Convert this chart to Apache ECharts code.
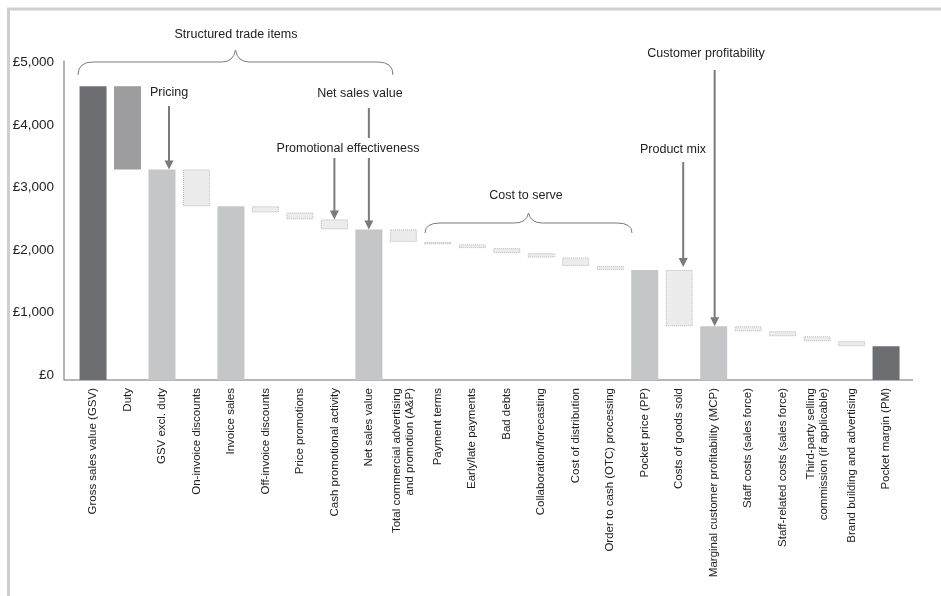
<!DOCTYPE html>
<html>
<head>
<meta charset="utf-8">
<script src="https://cdn.jsdelivr.net/npm/echarts@6/dist/echarts.min.js"></script>
<style>
  html, body { margin: 0; padding: 0; background: #fff; }
  #chart { width: 941px; height: 596px; }
</style>
</head>
<body>
<div id="chart"></div>
<script>
// Price waterfall: from gross sales value down to pocket margin (£ per unit)
const categories = [
  'Gross sales value (GSV)', 'Duty', 'GSV excl. duty', 'On-invoice discounts',
  'Invoice sales', 'Off-invoice discounts', 'Price promotions', 'Cash promotional activity',
  'Net sales value', 'Total commercial advertising\nand promotion (A&P)', 'Payment terms',
  'Early/late payments', 'Bad debts', 'Collaboration/forecasting', 'Cost of distribution',
  'Order to cash (OTC) processing', 'Pocket price (PP)', 'Costs of goods sold',
  'Marginal customer profitability (MCP)', 'Staff costs (sales force)',
  'Staff-related costs (sales force)', 'Third-party selling\ncommission (if applicable)',
  'Brand building and advertising', 'Pocket margin (PM)'
];

// 'gross' / 'subtotal' / 'margin' bars stand on the axis; 'duty' and 'cost' bars hang from the running total
const barKinds = [
  'gross', 'duty', 'subtotal', 'cost',
  'subtotal', 'cost', 'cost', 'cost',
  'subtotal', 'cost', 'cost',
  'cost', 'cost', 'cost', 'cost',
  'cost', 'subtotal', 'cost',
  'subtotal', 'cost',
  'cost', 'cost',
  'cost', 'margin'
];

const barValues = [
  4700, 1330, 3370, 590,
  2780, 100, 110, 160,
  2410, 200, 40,
  60, 80, 70, 135,
  65, 1760, 900,
  860, 80,
  80, 80,
  80, 540
];

const yTickValues = [0, 1000, 2000, 3000, 4000, 5000];
const yTickLabels = ['£0', '£1,000', '£2,000', '£3,000', '£4,000', '£5,000'];

// Running totals give each hanging bar its floor
const barBases = [];
let running = 0;
barKinds.forEach((kind, i) => {
  if (kind === 'duty' || kind === 'cost') {
    running -= barValues[i];
    barBases.push(running);
  } else {
    running = barValues[i];
    barBases.push(0);
  }
});

const kindStyle = {
  gross:    { color: '#6d6e71' },
  margin:   { color: '#6d6e71' },
  duty:     { color: '#9d9d9f' },
  subtotal: { color: '#c5c6c8' },
  cost:     { color: '#ececec', borderColor: '#b8b8b8', borderWidth: 1, borderType: 'dotted' }
};

const FONT = 'Liberation Sans, Arial, sans-serif';
const chart = echarts.init(document.getElementById('chart'), null, { renderer: 'canvas' });

chart.setOption({
  animation: false,
  backgroundColor: '#ffffff',
  grid: { left: 75.8, right: 37.7, top: 61.25, bottom: 216 },
  xAxis: {
    type: 'category',
    data: categories,
    axisLine: { show: false },
    axisTick: { show: false },
    axisLabel: {
      interval: 0, rotate: 90, margin: 8,
      color: '#222', fontFamily: FONT, fontSize: 11.5, lineHeight: 13
    }
  },
  yAxis: {
    type: 'value',
    min: 0, max: 5100, interval: 1000,
    offset: 11.8,
    splitLine: { show: false },
    axisTick: { show: false },
    axisLine: { show: true, lineStyle: { color: '#9a9a9a', width: 1.5 } },
    axisLabel: {
      margin: 10, color: '#222', fontFamily: FONT, fontSize: 13.5,
      verticalAlign: 'bottom', lineHeight: 10,
      formatter: v => {
        const k = yTickValues.indexOf(v);
        return k >= 0 ? yTickLabels[k] : '';
      }
    }
  },
  series: [
    {
      name: 'base', type: 'bar', stack: 'waterfall', silent: true,
      barWidth: 27,
      itemStyle: { color: 'transparent' },
      data: barBases
    },
    {
      name: 'value', type: 'bar', stack: 'waterfall',
      barWidth: 27,
      data: barValues.map((v, i) => ({ value: v, itemStyle: kindStyle[barKinds[i]] }))
    }
  ]
});

// ---- annotations: arrows, braces, captions ----
const px = (cat, val) => chart.convertToPixel({ xAxisIndex: 0, yAxisIndex: 0 }, [cat, val]);
const topOf = i => barBases[i] + barValues[i];
const ARROW = '#7a7a7a';
const g = [];

function caption(text, x, y) {
  g.push({
    type: 'text', x: x, y: y, z: 10,
    style: { text: text, fill: '#222', font: '12.5px ' + FONT, textAlign: 'center', textVerticalAlign: 'middle' }
  });
}
function segment(x, y1, y2) {
  g.push({ type: 'line', z: 10, shape: { x1: x, y1: y1, x2: x, y2: y2 }, style: { stroke: ARROW, lineWidth: 2 } });
}
function arrow(x, y1, yTip) {
  segment(x, y1, yTip - 7);
  g.push({
    type: 'polygon', z: 10,
    shape: { points: [[x - 4.5, yTip - 9], [x + 4.5, yTip - 9], [x, yTip]] },
    style: { fill: ARROW }
  });
}
function curve(x1, y1, cx, cy, x2, y2) {
  g.push({
    type: 'bezierCurve', z: 10,
    shape: { x1: x1, y1: y1, cpx1: cx, cpy1: cy, x2: x2, y2: y2 },
    style: { stroke: '#7a7a7a', lineWidth: 1, fill: null }
  });
}
function flat(x1, x2, y) {
  g.push({ type: 'line', z: 10, shape: { x1: x1, y1: y, x2: x2, y2: y }, style: { stroke: '#7a7a7a', lineWidth: 1 } });
}
function brace(x1, x2, yEnd, yFlat, yCusp) {
  const xm = (x1 + x2) / 2;
  curve(x1, yEnd, x1, yFlat, x1 + 15, yFlat);
  flat(x1 + 15, xm - 14, yFlat);
  curve(xm - 14, yFlat, xm - 2, yFlat, xm, yCusp);
  curve(xm, yCusp, xm + 2, yFlat, xm + 14, yFlat);
  flat(xm + 14, x2 - 15, yFlat);
  curve(x2 - 15, yFlat, x2, yFlat, x2, yEnd);
}

function drawAnnotations() {
  g.length = 0;
  const y0 = px(0, 0)[1];
  const yAxisX = px(0, 0)[0] - 17.24 - 11.8;

  // frame and baseline
  g.push({ type: 'line', shape: { x1: 7, y1: 9, x2: 941, y2: 9 }, style: { stroke: '#cfcfcf', lineWidth: 3 } });
  g.push({ type: 'line', shape: { x1: 8.5, y1: 8, x2: 8.5, y2: 596 }, style: { stroke: '#cfcfcf', lineWidth: 3 } });
  g.push({ type: 'line', shape: { x1: yAxisX, y1: y0, x2: 913, y2: y0 }, style: { stroke: '#a0a0a0', lineWidth: 1.5 } });

  // Structured trade items
  brace(78, 393, 75, 62, 50);
  caption('Structured trade items', 236, 35);

  // Pricing -> GSV excl. duty
  const pGsv = px(2, topOf(2));
  caption('Pricing', pGsv[0] + 7, 93);
  arrow(pGsv[0] + 7, 106, pGsv[1]);

  // Net sales value (line interrupted by the promotional caption)
  const pNsv = px(8, topOf(8));
  caption('Net sales value', pNsv[0] - 9, 94);
  segment(pNsv[0], 108, 138);
  arrow(pNsv[0], 158, pNsv[1]);

  // Promotional effectiveness -> cash promotional activity
  const pCash = px(7, topOf(7));
  caption('Promotional effectiveness', 348, 149);
  arrow(pCash[0], 158, pCash[1]);

  // Cost to serve
  brace(425, 632, 233, 223, 213);
  caption('Cost to serve', 526, 196);

  // Product mix -> costs of goods sold
  const pCogs = px(17, topOf(17));
  caption('Product mix', 673, 150);
  arrow(pCogs[0] + 4, 162, pCogs[1] - 3);

  // Customer profitability -> MCP
  const pMcp = px(18, topOf(18));
  caption('Customer profitability', 706, 54);
  arrow(pMcp[0] + 1, 70, pMcp[1]);

  chart.setOption({ graphic: { elements: g } });
}
drawAnnotations();
</script>
</body>
</html>
